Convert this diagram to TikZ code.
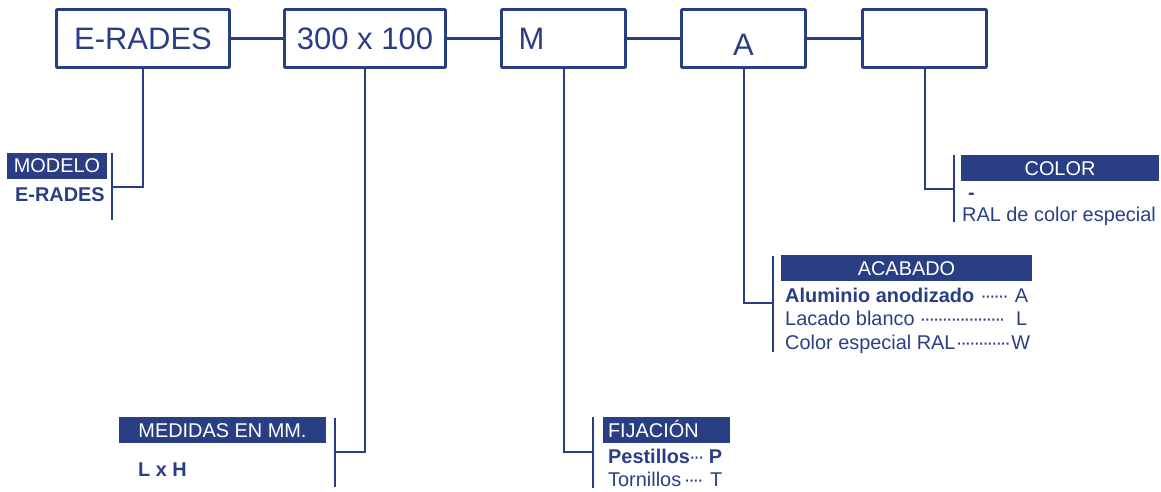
\documentclass[tikz,border=0pt]{standalone}
\usepackage{fontspec}
\setmainfont{Liberation Sans}
\definecolor{navy}{RGB}{42,62,132}
\newcommand\labfont{\fontsize{19.9}{23}\selectfont}
\newcommand\dotlead{\cleaders\hbox to 4.4pt{\hss\char"00B7\hss}\hfill}
\begin{document}
\begin{tikzpicture}[x=1pt,y=-1pt,
  topbox/.style={draw=navy, line width=2.8pt, minimum height=58pt, inner sep=0pt,
    text=navy, font=\fontsize{31}{36}\selectfont, rounded corners=0.8pt},
  hdr/.style={fill=navy, text=white, inner sep=0pt, minimum height=26pt,
    text height=14pt, text depth=0pt, font=\labfont},
  lab/.style={text=navy, inner sep=0pt, anchor=base west, font=\labfont},
  labb/.style={lab, font=\labfont\bfseries},
  link/.style={draw=navy, line width=3pt},
  lead/.style={draw=navy, line width=2pt}]
\useasboundingbox (0,0) rectangle (1161,491);

% top boxes
\node[topbox, minimum width=173pt] (b1) at (143,38.5) {E-RADES};
\node[topbox, minimum width=161pt] (b2) at (365,38.5) {300 x 100};
\node[topbox, minimum width=124pt, text width=90pt, align=left] (b3) at (563.5,38.5) {M};
\node[topbox, minimum width=124pt, text height=33pt, text depth=0pt] (b4) at (743.5,38.5) {A};
\node[topbox, minimum width=124pt] (b5) at (924.5,38.5) {};
\draw[link] (b1.east) -- (b2.west);
\draw[link] (b2.east) -- (b3.west);
\draw[link] (b3.east) -- (b4.west);
\draw[link] (b4.east) -- (b5.west);

% headers
\node[hdr, minimum width=100pt] (hmod) at (57,165.5) {MODELO};
\node[hdr, minimum width=207pt] (hmed) at (222.5,430) {MEDIDAS EN MM.};
\node[hdr, minimum width=127pt, text width=117pt, align=left] (hfij) at (666.5,430) {FIJACIÓN};
\node[hdr, minimum width=251pt] (hacab) at (906.5,268) {ACABADO};
\node[hdr, minimum width=198pt] (hcol) at (1060,168) {COLOR};

% brackets and drop lines
\coordinate (m1) at (112,153); \coordinate (m2) at (112,220); \coordinate (mj) at (112,187);
\draw[lead] (m1) -- (m2);
\draw[lead] (b1.south) |- (mj);

\coordinate (d1) at (335,418); \coordinate (d2) at (335,487); \coordinate (dj) at (335,452);
\draw[lead] (d1) -- (d2);
\draw[lead] (b2.south) |- (dj);

\coordinate (f1) at (593,417); \coordinate (f2) at (593,488); \coordinate (fj) at (593,452);
\draw[lead] (f1) -- (f2);
\draw[lead] (b3.south) |- (fj);

\coordinate (a1) at (773,256); \coordinate (a2) at (773,352); \coordinate (aj) at (773,303);
\draw[lead] (a1) -- (a2);
\draw[lead] (b4.south) |- (aj);

\coordinate (c1) at (954,155); \coordinate (c2) at (954,222); \coordinate (cj) at (954,189);
\draw[lead] (c1) -- (c2);
\draw[lead] (b5.south) |- (cj);

% texts
\node[labb] (t1) at (15,201) {E-RADES};
\node[labb] (t2) at (138,476) {L x H};
\node[lab] (t3) at (608,463) {\makebox[114pt][l]{{\bfseries Pestillos}\dotlead\ {\bfseries P}}};
\node[lab] (t4) at (608,486) {\makebox[114pt][l]{Tornillos\hspace{2pt}\dotlead\ T}};
\node[lab] (t5) at (785,302) {\makebox[243pt][l]{{\bfseries Aluminio anodizado}\ \dotlead\ A}};
\node[lab] (t6) at (785,325) {\makebox[242pt][l]{Lacado blanco\ \dotlead\ \ L}};
\node[lab] (t7) at (785,349) {\makebox[245pt][l]{Color especial RAL\dotlead W}};
\node[labb] (t8) at (968,199) {-};
\node[lab] (t9) at (962,221) {RAL de color especial};
\end{tikzpicture}
\end{document}
